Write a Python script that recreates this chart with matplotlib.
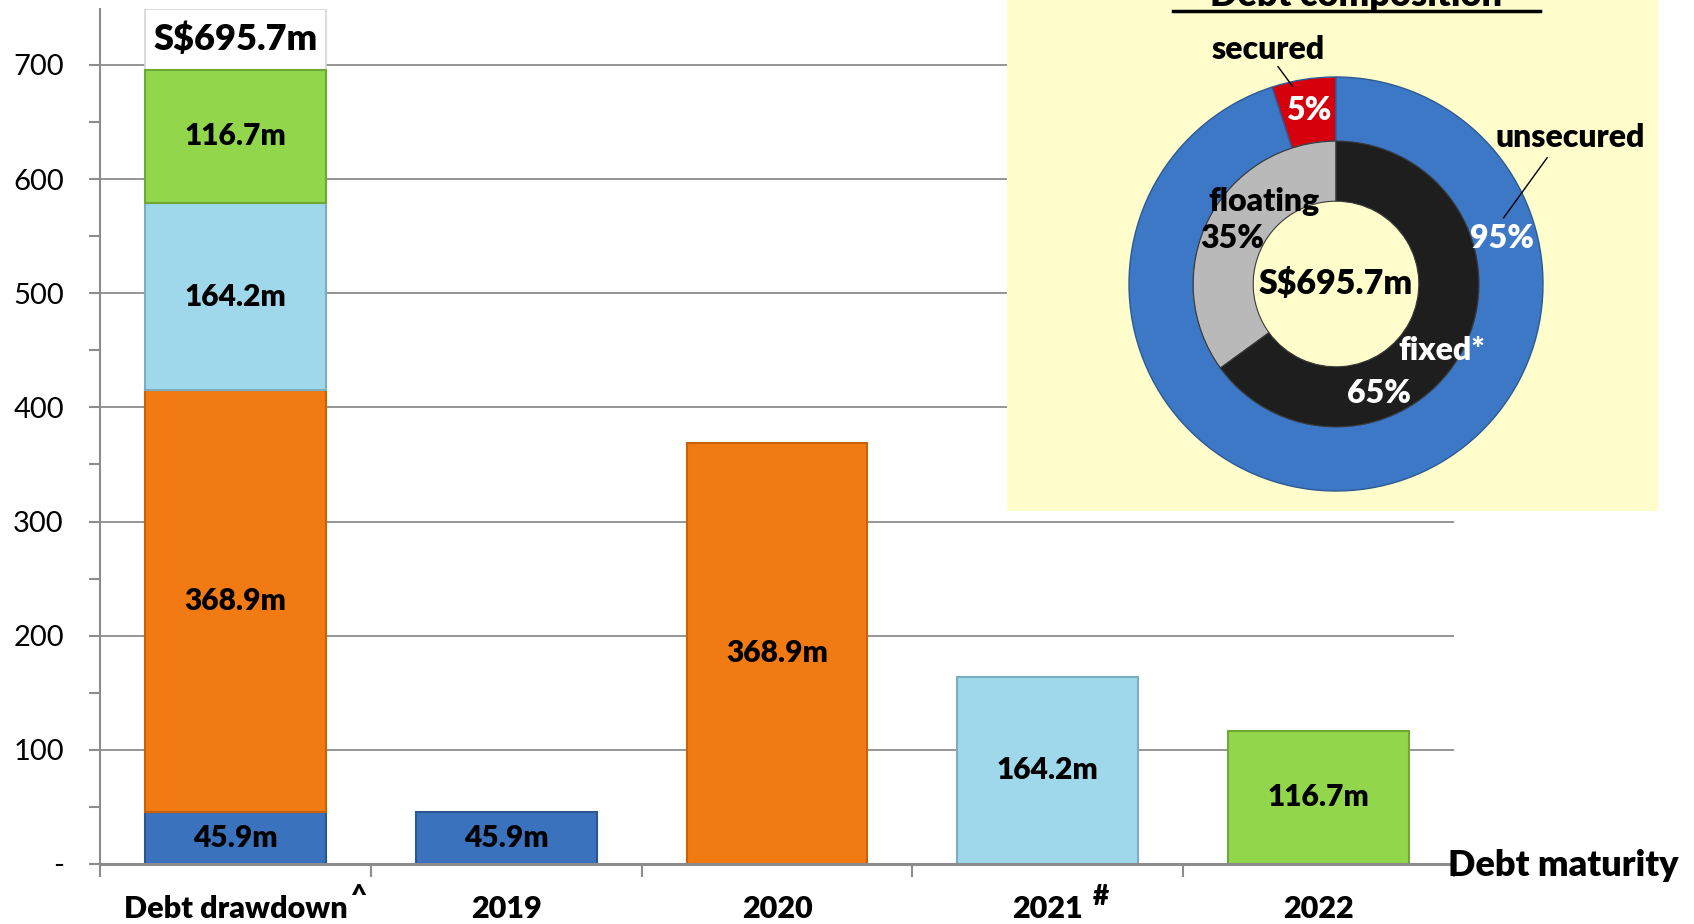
import matplotlib
matplotlib.use("Agg")
import matplotlib.pyplot as plt
from matplotlib.patches import Rectangle
import numpy as np

# ---------------- data ----------------
categories = ["Debt drawdown", "2019", "2020", "2021", "2022"]
category_marks = ["^", "", "", "#", ""]
tranche_values = [45.9, 368.9, 164.2, 116.7]          # maturing 2019, 2020, 2021, 2022
tranche_labels = ["45.9m", "368.9m", "164.2m", "116.7m"]
total_label = "S$695.7m"
y_ticks = [0, 100, 200, 300, 400, 500, 600, 700]
y_tick_labels = ["-", "100", "200", "300", "400", "500", "600", "700"]

security_names = ["secured", "unsecured"]
security_values = [5, 95]
rate_names = ["floating", "fixed*"]
rate_values = [35, 65]
pie_title = "Debt composition"
x_title = "Debt maturity"

# ---------------- style ----------------
FONT = "Lato"
BOLD = "heavy"
plt.rcParams["font.family"] = [FONT, "DejaVu Sans"]
bar_colors = ["#3A72BE", "#F27A12", "#9FD8EA", "#92D64C"]
bar_edges = ["#2A5690", "#C9600A", "#7AAFC2", "#6FA834"]
grid_gray = "#8C8C8C"

W, H = 1694, 924
fig = plt.figure(figsize=(W / 100, H / 100), dpi=100, facecolor="white")

# ---------------- main bar chart ----------------
ax = fig.add_axes([100 / W, 1 - 864 / H, 1354 / W, 855 / H], zorder=1)
ax.set_xlim(-0.5, 4.5)
ax.set_ylim(0, 749)
bw = 0.668

# stacked drawdown bar
bottom = 0.0
for v, lab, c, ec in zip(tranche_values, tranche_labels, bar_colors, bar_edges):
    ax.bar(0, v, bottom=bottom, width=bw, color=c, edgecolor=ec, linewidth=1.5, zorder=2)
    ax.text(0, bottom + v / 2, lab, ha="center", va="center", fontsize=21.5,
            fontweight=BOLD, color="black", zorder=4)
    bottom += v
total = bottom

# white box behind the total label
ax.add_patch(Rectangle((-bw / 2, total), bw, ax.get_ylim()[1] - total,
                       facecolor="white", edgecolor="#D6D6D6", linewidth=1.2, zorder=1.5))
ax.text(0, (total + ax.get_ylim()[1]) / 2, total_label, ha="center", va="center",
        fontsize=26, fontweight=BOLD, color="black", zorder=4)

# maturity bars
for i, (v, lab, c, ec) in enumerate(zip(tranche_values, tranche_labels, bar_colors, bar_edges), start=1):
    ax.bar(i, v, width=bw, color=c, edgecolor=ec, linewidth=1.5, zorder=2)
    ax.text(i, v / 2, lab, ha="center", va="center", fontsize=21.5,
            fontweight=BOLD, color="black", zorder=4)

# axes styling
ax.set_axisbelow(True)
ax.yaxis.grid(True, color=grid_gray, linewidth=1.3)
for s in ["top", "right"]:
    ax.spines[s].set_visible(False)
ax.spines["left"].set_color(grid_gray)
ax.spines["left"].set_linewidth(1.5)
ax.spines["bottom"].set_color(grid_gray)
ax.spines["bottom"].set_linewidth(2.2)
ax.spines["bottom"].set_zorder(3)

ax.set_yticks(y_ticks)
ax.set_yticklabels(y_tick_labels, fontsize=21)
ax.set_yticks(np.arange(50, 750, 100), minor=True)
ax.tick_params(axis="y", which="both", length=8, width=1.5, color=grid_gray, pad=18)

ax.set_xticks(range(len(categories)))
ax.set_xticklabels(categories, fontsize=22, fontweight=BOLD)
ax.set_xticks(np.arange(-0.5, len(categories), 1.0), minor=True)
ax.tick_params(axis="x", which="major", length=0, pad=22)
ax.tick_params(axis="x", which="minor", length=9, width=1.5, color=grid_gray)

fig.text(1678 / W, 1 - 866 / H, x_title, ha="right", va="center",
         fontsize=26, fontweight=BOLD, color="black")

# superscript marks on category labels
fig.canvas.draw()
renderer = fig.canvas.get_renderer()
for tl, mark in zip(ax.get_xticklabels(), category_marks):
    if not mark:
        continue
    bb = tl.get_window_extent(renderer)
    gap = 3 if mark == "^" else 10
    fig.text((bb.x1 + gap) / W, (bb.y1 + 11) / H, mark, ha="left", va="top",
             fontsize=20, fontweight=BOLD, color="black")

# ---------------- yellow panel ----------------
ax_box = fig.add_axes([1007 / W, 1 - 511 / H, 651 / W, 511 / H], zorder=2)
ax_box.set_facecolor("#FFFDCB")
ax_box.set_xticks([])
ax_box.set_yticks([])
for s in ax_box.spines.values():
    s.set_visible(False)

fig.text(1356 / W, 1 - 6 / H, pie_title, ha="center", va="baseline",
         fontsize=26, fontweight=BOLD, color="black", zorder=10)
fig.add_artist(plt.Line2D([1173 / W, 1540 / W], [1 - 11 / H, 1 - 11 / H],
                          color="black", linewidth=2.5, zorder=10))

# ---------------- donut ----------------
cx, cy, R = 1336, 284, 207
axp = fig.add_axes([(cx - R) / W, 1 - (cy + R) / H, 2 * R / W, 2 * R / H], zorder=3)
axp.pie(security_values, radius=1.0, startangle=90, counterclock=True,
        colors=["#D6000C", "#3C78C6"],
        wedgeprops=dict(width=0.31, edgecolor="#2C5A95", linewidth=1.0))
axp.pie(rate_values, radius=0.69, startangle=90, counterclock=True,
        colors=["#B9B9B9", "#1E1E1E"],
        wedgeprops=dict(width=0.29, edgecolor="#3A3A3A", linewidth=0.8))
axp.set_xlim(-1, 1)
axp.set_ylim(-1, 1)
axp.set_aspect("auto")
axp.patch.set_visible(False)

# labels for donut
PF = 23
axp.text(-0.33, 1.135, security_names[0], ha="center", va="center", fontsize=PF,
         fontweight=BOLD, color="black", clip_on=False)
axp.plot([-0.28, -0.21], [1.05, 0.955], color="black", linewidth=1.0, clip_on=False)
axp.text(-0.13, 0.836, f"{security_values[0]}%", ha="center", va="center", fontsize=PF,
         fontweight=BOLD, color="white")
axp.text(1.13, 0.71, security_names[1], ha="center", va="center", fontsize=PF,
         fontweight=BOLD, color="black", clip_on=False)
axp.plot([1.02, 0.81], [0.61, 0.32], color="black", linewidth=1.0, clip_on=False)
axp.text(0.80, 0.22, f"{security_values[1]}%", ha="center", va="center", fontsize=PF,
         fontweight=BOLD, color="white")
axp.text(-0.35, 0.40, rate_names[0], ha="center", va="center", fontsize=PF,
         fontweight=BOLD, color="black")
axp.text(-0.50, 0.22, f"{rate_values[0]}%", ha="center", va="center", fontsize=PF,
         fontweight=BOLD, color="black")
axp.text(0.51, -0.32, rate_names[1], ha="center", va="center", fontsize=PF,
         fontweight=BOLD, color="white")
axp.text(0.21, -0.53, f"{rate_values[1]}%", ha="center", va="center", fontsize=PF,
         fontweight=BOLD, color="white")
axp.text(0.0, 0.0, total_label, ha="center", va="center", fontsize=24.5,
         fontweight=BOLD, color="black")

fig.savefig("out.png", dpi=100, facecolor="white")
